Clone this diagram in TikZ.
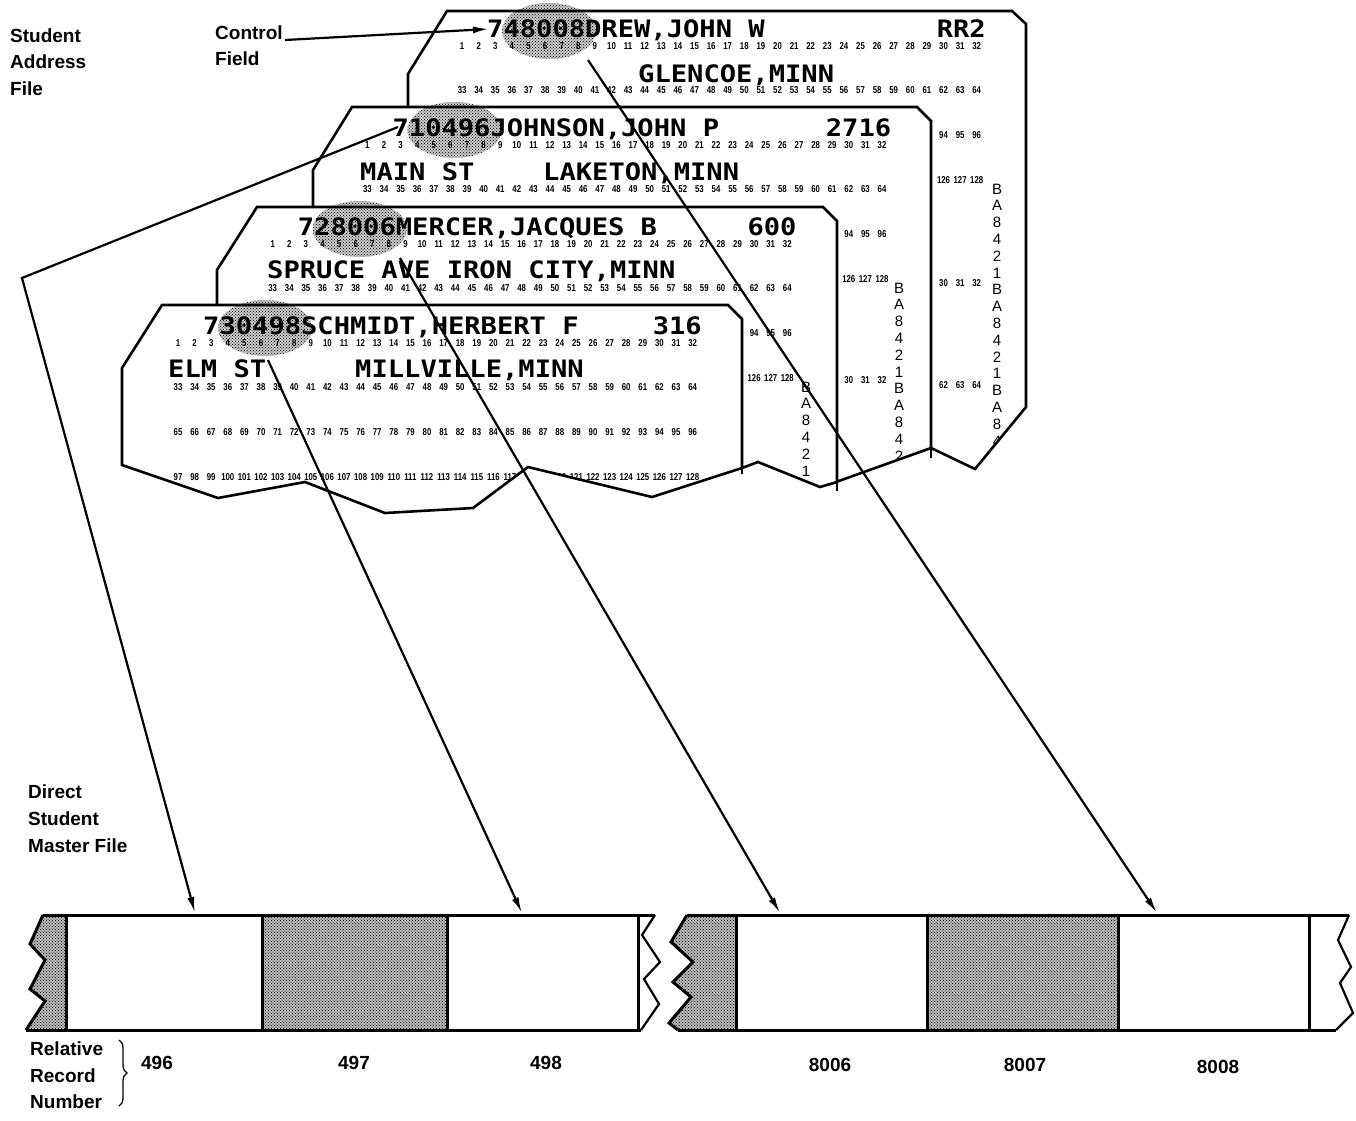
\documentclass[tikz,border=0pt]{standalone}
\usepackage{fontspec}
\setmainfont{Liberation Sans}
\newfontfamily\cardfont[FakeStretch=1.13]{DejaVu Sans Mono}
\newfontfamily\colfont[FakeStretch=0.78]{Liberation Sans}
\usetikzlibrary{patterns,arrows.meta,decorations.pathreplacing}

\tikzset{
  cardedge/.style={line width=2.6pt, line join=miter},
  stipple/.style={preaction={fill=black!28}, pattern=crosshatch dots},
  ovalfill/.style={preaction={fill=black!22}, pattern=crosshatch dots},
  nm/.style={font=\cardfont\bfseries\fontsize{24}{24}\selectfont, inner sep=0pt, anchor=base west},
  nmr/.style={nm, anchor=base east},
  colnum/.style={font=\colfont\bfseries\fontsize{10}{10}\selectfont, inner sep=0pt, anchor=base},
  bcd/.style={font=\fontsize{15}{15}\selectfont, inner sep=0pt},
  lab/.style={font=\bfseries\fontsize{19}{19}\selectfont, inner sep=0pt, anchor=base west},
  recnum/.style={font=\bfseries\fontsize{19}{19}\selectfont, inner sep=0pt, anchor=base},
  recbox/.style={draw, line width=3pt, minimum width=#1, minimum height=115pt, inner sep=0pt, outer sep=0pt, anchor=north west},
  conn/.style={line width=2.2pt, line join=miter, -{Latex[length=16pt,width=7pt]}},
}

% id, x1, baseline y, base number, from index, to index
\newcommand\numrow[6]{%
  \foreach \i in {#5,...,#6}{%
    \pgfmathtruncatemacro\nn{#4+\i}%
    \node[colnum] (n#1-\i) at ({#2+16.6*\i},#3) {\nn};
  }}

\def\cardA{(447,11) -- (1012,11) -- (1026,24) -- (1026,407) -- (975,469) -- (931,448) -- (600,300) -- (408,150) -- (408,74) -- cycle}
\def\cardB{(352,107) -- (917,107) -- (931,121) -- (931,448) -- (836,482) -- (500,350) -- (313,230) -- (313,170) -- cycle}
\def\cardC{(257,207) -- (823,207) -- (837,221) -- (837,482) -- (820,487) -- (758,462) -- (742,468) -- (500,400) -- (217,330) -- (217,270) -- cycle}
\def\cardD{(162,305) -- (728,305) -- (742,319) -- (742,468) -- (652,497) -- (528,467) -- (473,508) -- (385,513) -- (305,482) -- (218,498) -- (122,465) -- (122,368) -- cycle}

\begin{document}
\begin{tikzpicture}[x=1pt,y=-1pt]
\useasboundingbox (0,0) rectangle (1356,1120);
\fill[white] (0,0) rectangle (1356,1120);

% ---------- Card 1 (back) ----------
\fill[white] \cardA;
\path[ovalfill] (549.1,31) ellipse [x radius=47, y radius=28];
\begin{scope}
\clip \cardA;
\node[nm] (name1) at (487,37) {748008DREW,JOHN W};
\node[nmr] (num1) at (986,37) {RR2};
\numrow{1a}{462.1}{49}{1}{0}{31}
\node[nm] (addr1) at (638,82) {GLENCOE,MINN};
\numrow{1b}{462.1}{93}{33}{0}{31}
\numrow{1c}{462.1}{138}{65}{29}{31}
\numrow{1d}{462.1}{183}{97}{29}{31}
\numrow{1e}{462.1}{286}{1}{29}{31}
\numrow{1f}{462.1}{388}{33}{29}{31}
\foreach \L [count=\j from 0] in {B,A,8,4,2,1,B,A,8,4,2,1,B,A,8,4}
  {\node[bcd] (b1-\j) at (997,{189+16.8*\j}) {\L};}
\end{scope}
\draw[cardedge] \cardA;

% ---------- Card 2 ----------
\fill[white] \cardB;
\path[ovalfill] (454.4,130) ellipse [x radius=47, y radius=28];
\begin{scope}
\clip \cardB;
\node[nm] (name2) at (392.4,136) {710496JOHNSON,JOHN P};
\node[nmr] (num2) at (891.4,136) {2716};
\numrow{2a}{367.4}{148}{1}{0}{31}
\node[nm] (addr2a) at (360,180) {MAIN ST};
\node[nm] (addr2b) at (543,180) {LAKETON,MINN};
\numrow{2b}{367.4}{192}{33}{0}{31}
\numrow{2c}{367.4}{237}{65}{29}{31}
\numrow{2d}{367.4}{282}{97}{29}{31}
\numrow{2e}{367.4}{383}{1}{29}{31}
\foreach \L [count=\j from 0] in {B,A,8,4,2,1,B,A,8,4,2}
  {\node[bcd] (b2-\j) at (899,{288+16.8*\j}) {\L};}
\end{scope}
\draw[cardedge] \cardB;
\draw[cardedge] (931,446) -- (931,458);

% ---------- Card 3 ----------
\fill[white] \cardC;
\path[ovalfill] (359.7,229) ellipse [x radius=47, y radius=28];
\begin{scope}
\clip \cardC;
\node[nm] (name3) at (297.7,235) {728006MERCER,JACQUES B};
\node[nmr] (num3) at (796.7,235) {600};
\numrow{3a}{272.7}{247}{1}{0}{31}
\node[nm] (addr3) at (267,278) {SPRUCE AVE IRON CITY,MINN};
\numrow{3b}{272.7}{291}{33}{0}{31}
\numrow{3c}{272.7}{336}{65}{29}{31}
\numrow{3d}{272.7}{381}{97}{29}{31}
\foreach \L [count=\j from 0] in {B,A,8,4,2,1}
  {\node[bcd] (b3-\j) at (806,{387+16.8*\j}) {\L};}
\end{scope}
\draw[cardedge] \cardC;
\draw[cardedge] (837,480) -- (837,491);

% ---------- Card 4 (front) ----------
\fill[white] \cardD;
\path[ovalfill] (265,328) ellipse [x radius=47, y radius=28];
\begin{scope}
\clip \cardD;
\node[nm] (name4) at (203,334) {730498SCHMIDT,HERBERT F};
\node[nmr] (num4) at (702,334) {316};
\numrow{4a}{178}{346}{1}{0}{31}
\node[nm] (addr4a) at (168,377) {ELM ST};
\node[nm] (addr4b) at (355,377) {MILLVILLE,MINN};
\numrow{4b}{178}{390}{33}{0}{31}
\numrow{4c}{178}{435}{65}{0}{31}
\numrow{4d}{178}{480}{97}{0}{31}
\end{scope}
\draw[cardedge] \cardD;
\draw[cardedge] (742,466) -- (742,474);

% ---------- Labels ----------
\node[lab] (saf1) at (10,42) {Student};
\node[lab] (saf2) at (10,68) {Address};
\node[lab] (saf3) at (10,95) {File};
\node[lab] (cf1) at (215,39) {Control};
\node[lab] (cf2) at (215,65) {Field};
\node[lab] (dsm1) at (28,798) {Direct};
\node[lab] (dsm2) at (28,825) {Student};
\node[lab] (dsm3) at (28,852) {Master File};
\node[lab] (rrn1) at (30,1055) {Relative};
\node[lab] (rrn2) at (30,1082) {Record};
\node[lab] (rrn3) at (30,1108) {Number};
\coordinate (br1) at (119,1040);
\coordinate (br2) at (119,1106);
\draw[line width=1.3pt, decorate, decoration={brace, amplitude=8pt}] (br1) -- (br2);

% ---------- Record strips ----------
\path[stipple] (43,915) -- (30,944) -- (45,960) -- (30,989) -- (45,1001) -- (26,1030) -- (66,1030) -- (66,915) -- cycle;
\node[recbox=196pt] (c496) at (66,915) {};
\node[recbox=185pt, stipple] (c497) at (262,915) {};
\node[recbox=191pt] (c498) at (447,915) {};
\draw[line width=3pt] (43,915) -- (655,915);
\draw[line width=3pt] (26,1030) -- (641,1030);
\draw[line width=3pt, line join=miter] (43,915) -- (30,944) -- (45,960) -- (30,989) -- (45,1001) -- (26,1030);
\draw[line width=1.8pt] (638,915) -- (638,1030);
\draw[line width=2.2pt, line join=miter] (655,915) -- (642,935) -- (660,962) -- (644,979) -- (659,1004) -- (641,1030);

\path[stipple] (687,915) -- (671,942) -- (693,962) -- (673,982) -- (691,997) -- (669,1023) -- (678,1030) -- (736,1030) -- (736,915) -- cycle;
\node[recbox=191pt] (c8006) at (736,915) {};
\node[recbox=191pt, stipple] (c8007) at (927,915) {};
\node[recbox=191pt] (c8008) at (1118,915) {};
\draw[line width=3pt] (687,915) -- (1349,915);
\draw[line width=3pt] (678,1030) -- (1336,1030);
\draw[line width=3pt, line join=miter] (687,915) -- (671,942) -- (693,962) -- (673,982) -- (691,997) -- (669,1023) -- (678,1030);
\draw[line width=1.8pt] (1309,915) -- (1309,1030);
\draw[line width=2.2pt, line join=miter] (1349,915) -- (1338,940) -- (1351,967) -- (1340,983) -- (1353,1013) -- (1336,1030);

\node[recnum] (r496) at (157,1069) {496};
\node[recnum] (r497) at (354,1069) {497};
\node[recnum] (r498) at (546,1069) {498};
\node[recnum] (r8006) at (830,1071) {8006};
\node[recnum] (r8007) at (1025,1071) {8007};
\node[recnum] (r8008) at (1218,1073) {8008};

% ---------- Connectors ----------
\coordinate (cst) at (285,40);
\coordinate (cend) at (489,29);
\coordinate (s496) at (398,127);
\coordinate (b496) at (22,278);
\coordinate (t496) at (195,913);
\coordinate (s498) at (268,360);
\coordinate (t498) at (522,913);
\coordinate (s8006) at (400,258);
\coordinate (t8006) at (780,913);
\coordinate (s8008) at (588,60);
\coordinate (t8008) at (1157,913);

\draw[conn] (cst) -- (cend);
\draw[conn] (s496) -- (b496) -- (t496);
\draw[conn] (s498) -- (t498);
\draw[conn] (s8006) -- (t8006);
\draw[conn] (s8008) -- (t8008);
\end{tikzpicture}
\end{document}
